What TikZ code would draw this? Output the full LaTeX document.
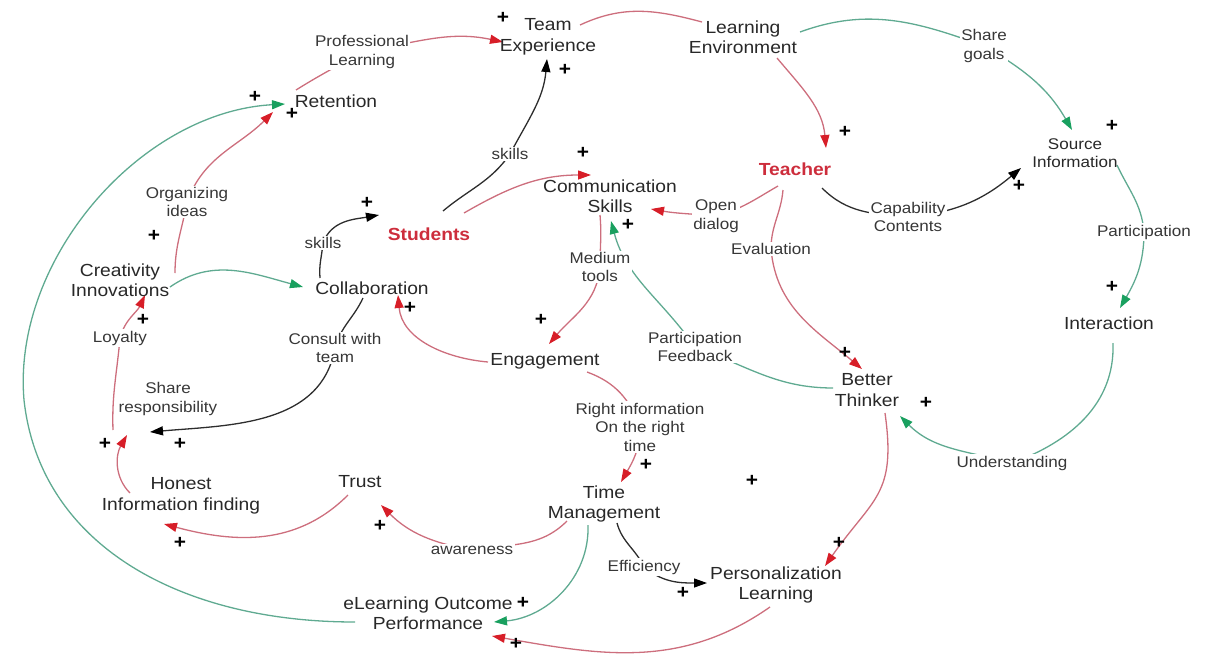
\documentclass[tikz,border=0pt]{standalone}
\usepackage{fontspec}
\setmainfont{Liberation Sans}[FakeStretch=1.1]
\usetikzlibrary{arrows.meta}
\definecolor{txt}{RGB}{40,40,40}
\definecolor{lbtxt}{RGB}{55,55,55}
\definecolor{hot}{RGB}{205,45,60}
\definecolor{rln}{RGB}{205,110,125}
\definecolor{rtp}{RGB}{215,30,40}
\definecolor{gln}{RGB}{95,170,145}
\definecolor{gtp}{RGB}{25,160,95}
\definecolor{kln}{RGB}{45,45,45}
\pgfdeclarelayer{bg}
\pgfsetlayers{bg,main}
\begin{document}
\begin{tikzpicture}[x=1pt,y=1pt,
 nd/.style={font=\fontsize{17.5}{20.5}\selectfont, text=txt, align=center, inner sep=1pt},
 hotnd/.style={font=\fontsize{17.5}{20.5}\selectfont\bfseries, text=hot, inner sep=1pt},
 smnd/.style={font=\fontsize{15.5}{17.5}\selectfont, text=txt, align=center, inner sep=1pt},
 lb/.style={font=\fontsize{15.5}{18.5}\selectfont, text=lbtxt, align=center, fill=white, inner sep=1.5pt},
 lbn/.style={font=\fontsize{15.5}{18.5}\selectfont, text=lbtxt, align=center, inner sep=1.5pt},
 plus/.style={font=\fontsize{19}{19}\selectfont\bfseries, text=black, inner sep=0pt},
 redl/.style={draw=rln, line width=1.3pt, -{Triangle[length=13pt,width=9pt,color=rtp]}},
 redn/.style={draw=rln, line width=1.3pt},
 grnl/.style={draw=gln, line width=1.3pt, -{Triangle[length=13pt,width=9pt,color=gtp]}},
 blkl/.style={draw=kln, line width=1.3pt, -{Triangle[length=13pt,width=9pt,color=black]}},
]
\useasboundingbox (0,0) rectangle (1211,-654);
% variables
\node[nd] (te) at (548,-37) {Team\\Experience};
\node[nd] (le) at (743,-37) {Learning\\Environment};
\node[nd] (ret) at (336,-101) {Retention};
\node[hotnd] (tea) at (795,-169) {Teacher};
\node[smnd] (src) at (1075,-153) {Source\\Information};
\node[nd] (cs) at (610,-196) {Communication\\Skills};
\node[hotnd] (stu) at (429,-234) {Students};
\node[nd] (col) at (372,-288) {Collaboration};
\node[nd] (ci) at (120,-280) {Creativity\\Innovations};
\node[nd] (int) at (1109,-323) {Interaction};
\node[nd] (eng) at (545,-361) {Engagement};
\node[nd] (bt) at (867,-390) {Better\\Thinker};
\node[nd] (hon) at (181,-496) {Honest\\Information finding};
\node[nd] (tru) at (360,-482) {Trust};
\node[nd] (tm) at (604,-504) {Time\\Management};
\node[nd] (pl) at (776,-585) {Personalization\\Learning};
\node[nd] (elo) at (428,-613) {eLearning Outcome\\Performance};
% labels
\node[lb] (pl1) at (362,-52) {Professional\\Learning};
\node[lb] (sk1) at (510,-154) {skills};
\node[lb] (oi) at (187,-202) {Organizing\\ideas};
\node[lb] (sk2) at (323,-243) {skills};
\node[lb] (od) at (716,-216) {Open\\dialog};
\node[lb] (cc) at (908,-217) {Capability\\Contents};
\node[lb] (sg) at (984,-46) {Share\\goals};
\node[lb] (pa) at (1144,-232) {Participation};
\node[lb] (mt) at (600,-267) {Medium\\tools};
\node[lb] (ev) at (771,-249) {Evaluation};
\node[lb] (loy) at (120,-338) {Loyalty};
\node[lb] (cwt) at (335,-348) {Consult with\\team};
\node[lbn] (srl) at (168,-399) {Share\\responsibility};
\node[lb] (pf) at (695,-347) {Participation\\Feedback};
\node[lb] (ri) at (640,-427) {Right information\\On the right\\time};
\node[lb] (und) at (1012,-463) {Understanding};
\node[lb] (aw) at (472,-550) {awareness};
\node[lb] (eff) at (644,-567) {Efficiency};
\coordinate (srA) at (127,-435);
\coordinate (srB) at (150,-432);
\coordinate (srC) at (113,-430);
% polarity signs
\foreach \px/\py [count=\i] in {503/18,565/70,583/153,255/97,292/114,367/203,845/132,1112/126,1019/186,154/236,143/320,410/308,628/225,541/320,1112/287,845/353,926/403,105/444,180/444,380/526,180/543,646/465,752/481,839/543,683/593,523/603,516/644}
  \node[plus] (p\i) at (\px,-\py) {+};
\begin{pgfonlayer}{bg}
\draw[redl] ([shift={(-40,11)}]ret.center) to[out=32,in=-150] (pl1.center) to[out=10,in=168] ([shift={(-45,-5)}]te.center);
\draw[redn] ([shift={(32,12)}]te.center) to[out=25,in=165] ([shift={(-41,15)}]le.center);
\draw[redl] ([shift={(34,-21)}]le.center) to[out=-50,in=95] ([shift={(31,21)}]tea.center);
\draw[grnl] ([shift={(57,5)}]le.center) to[out=20,in=160] (sg.center) to[out=-30,in=120] ([shift={(-3,23)}]src.center);
\draw[grnl] ([shift={(42,-12)}]src.center) to[out=-65,in=95] (pa.center) to[out=-90,in=60] ([shift={(11,15)}]int.center);
\draw[grnl] ([shift={(4,-20)}]int.center) to[out=-88,in=20] (und.center) to[out=165,in=-45] ([shift={(33,-26)}]bt.center);
\draw[blkl] ([shift={(27,-19)}]tea.center) to[out=-45,in=175] (cc.center) to[out=5,in=-140] ([shift={(-54,-15)}]src.center);
\draw[redl] ([shift={(-17,-17)}]tea.center) to[out=-150,in=15] (od.center) to[out=175,in=-10] ([shift={(41,-13)}]cs.center);
\draw[redl] ([shift={(-12,-21)}]tea.center) to[out=-95,in=90] (ev.center) to[out=-85,in=140] ([shift={(-5,21)}]bt.center);
\draw[grnl] ([shift={(-34,2)}]bt.center) to[out=180,in=-20] (pf.center) to[out=125,in=-75] ([shift={(1,-25)}]cs.center);
\draw[redl] ([shift={(-10,-19)}]cs.center) to[out=-85,in=90] (mt.center) to[out=-95,in=50] ([shift={(4,17)}]eng.center);
\draw[redl] ([shift={(35,21)}]stu.center) to[out=30,in=180] ([shift={(-19,21)}]cs.center);
\draw[blkl] ([shift={(14,23)}]stu.center) to[out=40,in=-125] (sk1.center) to[out=62,in=-95] ([shift={(-1,-22)}]te.center);
\draw[blkl] ([shift={(-52,10)}]col.center) to[out=95,in=-95] (sk2.center) to[out=70,in=190] ([shift={(-50,19)}]stu.center);
\draw[redl] ([shift={(-57,-1)}]eng.center) to[out=175,in=-85] ([shift={(26,-7)}]col.center);
\draw[grnl] ([shift={(50,-7)}]ci.center) to[out=35,in=165] ([shift={(-69,1)}]col.center);
\draw[redl] ([shift={(55,7)}]ci.center) to[out=90,in=-100] (oi.center) to[out=70,in=-135] ([shift={(-63,-11)}]ret.center);
\draw[grnl] ([shift={(-73,-9)}]elo.center) .. controls (180,-622) and (40,-545) .. (24,-400) .. controls (12,-260) and (140,-112) .. ([shift={(-51,-3)}]ret.center);
\draw[blkl] ([shift={(-9,-10)}]col.center) to[out=-115,in=75] (cwt.center) to[out=-100,in=5] (srB);
\draw[redl] ([shift={(-51,3)}]hon.center) to[out=135,in=-120] (srA);
\draw[redl] (srC) to[out=92,in=-95] (loy.center) to[out=75,in=-115] ([shift={(25,-15)}]ci.center);
\draw[redl] ([shift={(-12,-13)}]tru.center) to[out=-135,in=-15] ([shift={(-17,-28)}]hon.center);
\draw[redl] ([shift={(-37,-17)}]tm.center) to[out=-135,in=10] (aw.center) to[out=170,in=-45] ([shift={(21,-23)}]tru.center);
\draw[redl] ([shift={(42,-11)}]eng.center) to[out=-20,in=110] (ri.center) to[out=-90,in=60] ([shift={(17,22)}]tm.center);
\draw[grnl] ([shift={(-16,-21)}]tm.center) to[out=-88,in=5] ([shift={(66,-9)}]elo.center);
\draw[blkl] ([shift={(13,-19)}]tm.center) to[out=-75,in=115] (eff.center) to[out=-40,in=180] ([shift={(-69,2)}]pl.center);
\draw[redl] ([shift={(18,-23)}]bt.center) to[out=-82,in=55,looseness=1.3] ([shift={(49,19)}]pl.center);
\draw[redl] ([shift={(-6,-22)}]pl.center) to[out=-145,in=-10] ([shift={(64,-23)}]elo.center);
\end{pgfonlayer}
\end{tikzpicture}
\end{document}
